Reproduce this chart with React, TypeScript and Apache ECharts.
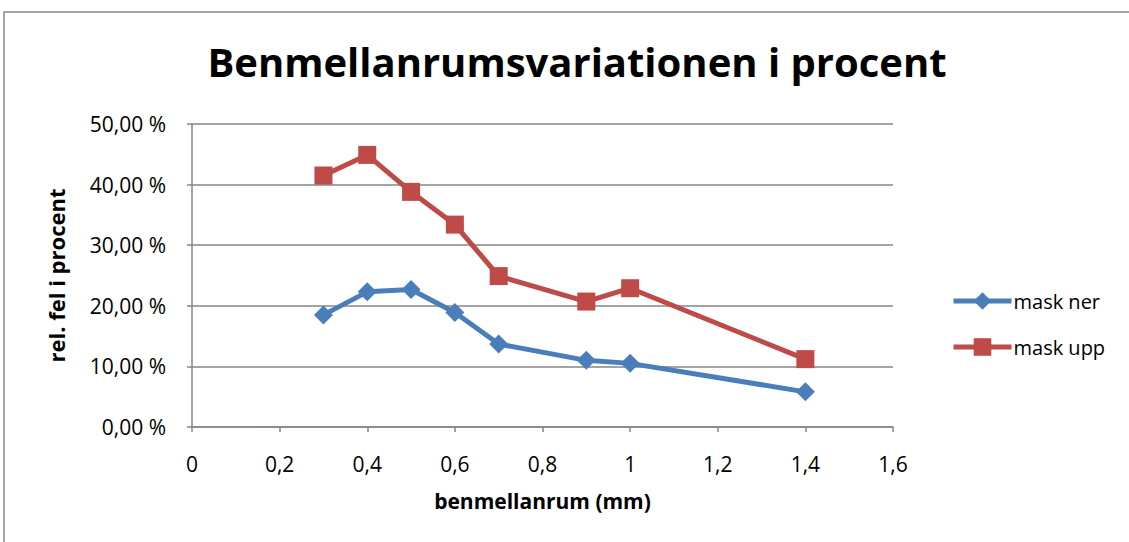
import React, { useEffect, useRef } from "react";
import * as echarts from "echarts";

const xValues = [0.3, 0.4, 0.5, 0.6, 0.7, 0.9, 1.0, 1.4];
const maskNer = [18.5, 22.3, 22.7, 18.9, 13.7, 11.0, 10.5, 5.8];
const maskUpp = [41.5, 44.9, 38.8, 33.4, 24.9, 20.7, 22.9, 11.2];
const seriesNames = ["mask ner", "mask upp"];
const titleText = "Benmellanrumsvariationen i procent";
const xAxisName = "benmellanrum (mm)";
const yAxisName = "rel. fel i procent";

const FONT = "'Open Sans', 'Noto Sans', sans-serif";

export default function App() {
  const ref = useRef<HTMLDivElement>(null);
  useEffect(() => {
    if (!ref.current) return;
    const chart = echarts.init(ref.current, undefined, { renderer: "svg" });
    const gridColor = "#868686";
    chart.setOption({
      animation: false,
      backgroundColor: "#ffffff",
      title: {
        text: titleText,
        left: 572,
        textAlign: "center",
        top: 36,
        textStyle: { fontFamily: FONT, fontWeight: "bold", fontSize: 40, color: "#000" },
      },
      graphic: [
        {
          type: "rect",
          shape: { x: 4, y: 12, width: 1140, height: 560 },
          style: { fill: "none", stroke: "#888888", lineWidth: 1.5 },
          silent: true,
        },
      ],
      legend: {
        orient: "vertical",
        left: 946,
        top: 286,
        itemGap: 26,
        itemWidth: 58,
        itemHeight: 22,
        lineStyle: { width: 5 },
        textStyle: { fontFamily: FONT, fontSize: 20, color: "#000", padding: [0, 0, 0, -3] },
        data: seriesNames,
      },
      grid: { left: 192, right: 236, top: 124, bottom: 115 },
      xAxis: {
        type: "value",
        min: 0,
        max: 1.6,
        interval: 0.2,
        name: xAxisName,
        nameLocation: "middle",
        nameGap: 63,
        nameTextStyle: { fontFamily: FONT, fontWeight: "bold", fontSize: 21, color: "#000" },
        axisLine: { show: true, lineStyle: { color: gridColor, width: 1.5 } },
        axisTick: { show: true, length: 5, lineStyle: { color: gridColor, width: 1.5 } },
        splitLine: { show: false },
        axisLabel: {
          fontFamily: FONT,
          fontSize: 21,
          color: "#000",
          margin: 26,
          formatter: (v: number) => (Math.round(v * 10) / 10).toString().replace(".", ","),
        },
      },
      yAxis: {
        type: "value",
        min: 0,
        max: 50,
        interval: 10,
        name: yAxisName,
        nameLocation: "middle",
        nameGap: 125,
        nameRotate: 90,
        nameTextStyle: { fontFamily: FONT, fontWeight: "bold", fontSize: 22, color: "#000" },
        axisLine: { show: true, lineStyle: { color: gridColor, width: 1.5 } },
        axisTick: { show: true, length: 5, lineStyle: { color: gridColor, width: 1.5 } },
        splitLine: { show: true, lineStyle: { color: gridColor, width: 1.5 } },
        axisLabel: {
          fontFamily: FONT,
          fontSize: 21,
          color: "#000",
          margin: 26,
          formatter: (v: number) => v.toFixed(2).replace(".", ",") + " %",
        },
      },
      series: [
        {
          name: seriesNames[0],
          type: "line",
          data: xValues.map((x, i) => [x, maskNer[i]]),
          symbol: "diamond",
          symbolSize: 19,
          lineStyle: { color: "#4A7EBB", width: 5 },
          itemStyle: { color: "#4A7EBB" },
        },
        {
          name: seriesNames[1],
          type: "line",
          data: xValues.map((x, i) => [x, maskUpp[i]]),
          symbol: "rect",
          symbolSize: 18,
          lineStyle: { color: "#BE4B48", width: 5 },
          itemStyle: { color: "#BE4B48" },
        },
      ],
    });
    return () => chart.dispose();
  }, []);
  return (
    <div
      ref={ref}
      style={{ position: "fixed", left: 0, top: 0, width: 1129, height: 542 }}
    />
  );
}
